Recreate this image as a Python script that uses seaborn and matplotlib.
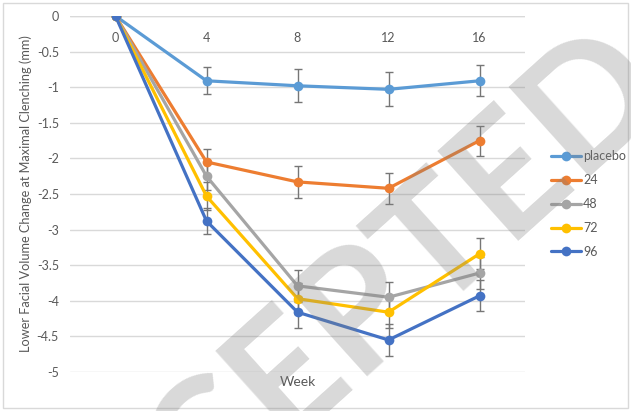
import matplotlib
matplotlib.use("Agg")
import matplotlib.pyplot as plt
import seaborn as sns
import pandas as pd
from matplotlib.patches import Rectangle

weeks = ["0", "4", "8", "12", "16"]
groups = ["placebo", "24", "48", "72", "96"]
placebo = [0, -0.91, -0.98, -1.03, -0.91]
dose24 = [0, -2.05, -2.33, -2.42, -1.75]
dose48 = [0, -2.25, -3.79, -3.95, -3.61]
dose72 = [0, -2.53, -3.97, -4.16, -3.34]
dose96 = [0, -2.88, -4.16, -4.55, -3.93]
err_placebo = [0, 0.19, 0.23, 0.24, 0.22]
err24 = [0, 0.18, 0.22, 0.22, 0.21]
err48 = [0, 0.20, 0.22, 0.22, 0.22]
err72 = [0, 0.20, 0.22, 0.22, 0.22]
err96 = [0, 0.18, 0.22, 0.23, 0.22]
yticks = [0, -0.5, -1, -1.5, -2, -2.5, -3, -3.5, -4, -4.5, -5]

colors = ["#5B9BD5", "#ED7D31", "#A5A5A5", "#FFC000", "#4472C4"]
series = [placebo, dose24, dose48, dose72, dose96]
errs = [err_placebo, err24, err48, err72, err96]

rows = []
for g, vals in zip(groups, series):
    for i, v in enumerate(vals):
        rows.append({"pos": i, "week": weeks[i], "value": v, "group": g})
df = pd.DataFrame(rows)

sns.set_theme(style="white")
plt.rcParams["font.family"] = ["Lato", "DejaVu Sans"]
txt = "#595959"

fig = plt.figure(figsize=(6.31, 4.11), dpi=100)
ax = fig.add_axes([70 / 631, 1 - 372 / 411, 455 / 631, 356 / 411])

for g, e, c in zip(groups, errs, colors):
    sub = df[df.group == g]
    ax.errorbar(sub["pos"], sub["value"], yerr=e, fmt="none", ecolor="#767676",
                elinewidth=1.0, capsize=3, capthick=1.0, zorder=3)

sns.lineplot(data=df, x="pos", y="value", hue="group", hue_order=groups,
             palette=colors, marker="o", markersize=7, markeredgewidth=0,
             linewidth=2.3, ax=ax, legend=True, zorder=4)

ax.set_xlim(-0.5, 4.5)
ax.set_ylim(-5, 0)
ax.set_yticks(yticks)
ax.set_yticklabels([f"{t:g}" for t in yticks], color=txt, fontsize=9)
ax.tick_params(axis="y", length=0, pad=8)
ax.set_xticks([])
ax.grid(axis="y", color="#d9d9d9", linewidth=1)
for s in ax.spines.values():
    s.set_visible(False)
ax.axhline(0, color="#d9d9d9", linewidth=1, zorder=1)

for i, w in enumerate(weeks):
    ax.annotate(w, xy=(i, 0), xytext=(0, -16), textcoords="offset points",
                ha="center", va="center", fontsize=9, color=txt)

ax.set_xlabel("Week", fontsize=10, color=txt, labelpad=3)
ax.set_ylabel("Lower Facial Volume Change at Maximal Clenching (mm)",
              fontsize=9.2, color=txt, labelpad=3)

h, l = ax.get_legend_handles_labels()
ax.legend_.remove()
fig.legend(h, l, loc="center left", bbox_to_anchor=(540 / 631, 1 - 204 / 411),
           frameon=False, fontsize=9, handlelength=2.4, handletextpad=0.15,
           labelspacing=0.95, labelcolor=txt)

fig.text(325 / 631, 1 - 352 / 411, "ACCEPTED", rotation=42, ha="center",
         va="center", rotation_mode="anchor", fontsize=120, fontweight="bold",
         family="Lato", color="#808080", alpha=0.3, zorder=10)

fig.patches.append(Rectangle((3 / 631, 3 / 411), 625 / 631, 405 / 411,
                             transform=fig.transFigure, fill=False,
                             edgecolor="#d9d9d9", linewidth=1))

fig.savefig("out.png", dpi=100)
